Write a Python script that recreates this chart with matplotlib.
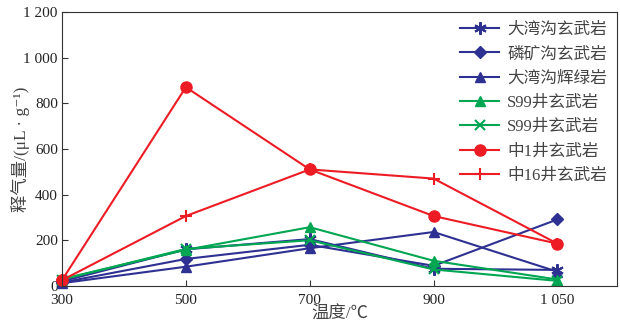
import matplotlib
matplotlib.use('Agg')
import matplotlib.pyplot as plt

plt.rcParams['font.family'] = ['Liberation Serif', 'Noto Sans CJK SC', 'DejaVu Serif']

temps = ['300', '500', '700', '900', '1 050']
series_names = ['大湾沟玄武岩', '磷矿沟玄武岩', '大湾沟辉绿岩', 'S99井玄武岩',
                'S99井玄武岩', '中1井玄武岩', '中16井玄武岩']
dwg_basalt = [20, 160, 205, 75, 70]
lkg_basalt = [15, 118, 180, 88, 291]
dwg_diabase = [12, 84, 165, 236, 62]
s99_tri = [30, 158, 257, 110, 28]
s99_x = [28, 162, 200, 72, 22]
z1_basalt = [25, 870, 510, 306, 185]
z16_basalt = [25, 306, 510, 470, 185]

blue = '#2e3192'
green = '#00a651'
red = '#ed1c24'
styles = [
    (dwg_basalt, blue, (6, 2, 0), 9),
    (lkg_basalt, blue, 'D', 6),
    (dwg_diabase, blue, '^', 7),
    (s99_tri, green, '^', 7),
    (s99_x, green, 'x', 7),
    (z1_basalt, red, 'o', 8),
    (z16_basalt, red, '+', 9),
]

fig = plt.figure(figsize=(6.2, 3.29), dpi=100)
ax = fig.add_axes([0.1, 0.131, 0.895, 0.833])
xs = range(len(temps))
for name, (vals, c, m, ms) in zip(series_names, styles):
    ax.plot(xs, vals, color=c, marker=m, markersize=ms, lw=1.5,
            markeredgewidth=1.5 if m in ('x', '+', (6, 2, 0)) else 1,
            label=name, clip_on=False)

ax.set_xlim(0, 4.48)
ax.set_ylim(0, 1200)
ax.set_xticks(list(xs))
ax.set_xticklabels(temps)
ax.set_yticks(range(0, 1201, 200))
ax.set_yticklabels(['0', '200', '400', '600', '800', '1 000', '1 200'])
ax.tick_params(direction='in', labelsize=11, length=4, colors='#333333',
               labelcolor='#222222')
ax.tick_params(axis='x', pad=6)
ax.tick_params(axis='y', pad=3)
for s in ax.spines.values():
    s.set_color('#333333')
ax.set_xlabel('温度/℃', fontsize=12.5, color='#444444', labelpad=0)
ax.set_ylabel('释气量/(μL · g⁻¹)', fontsize=12.5, color='#444444')
ax.yaxis.set_label_coords(-0.058, 0.5)
ax.legend(loc='upper right', frameon=False, fontsize=12, handlelength=2.3,
          labelspacing=0.5, borderaxespad=0.2, handletextpad=0.5,
          labelcolor='#444444')

fig.savefig('out.png', dpi=100)
